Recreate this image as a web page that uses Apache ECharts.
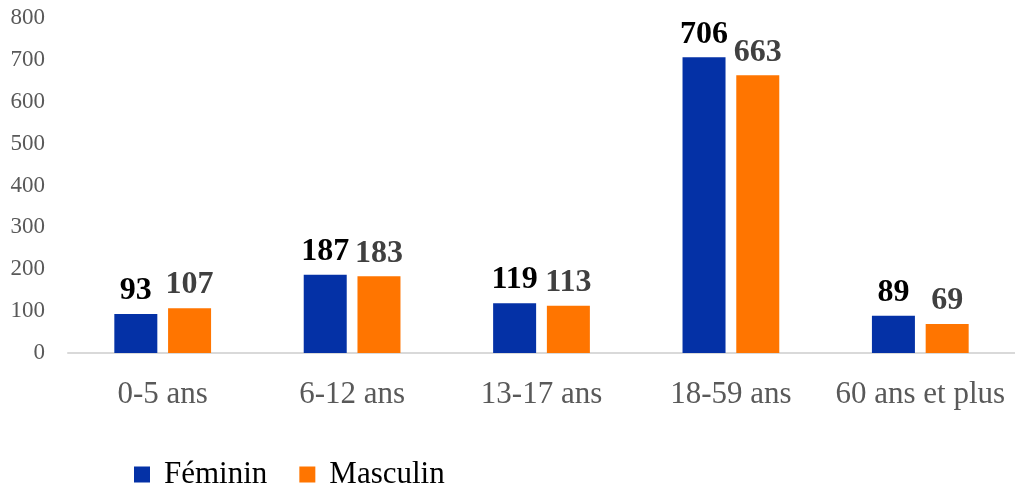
<!DOCTYPE html>
<html>
<head>
<meta charset="utf-8">
<script src="https://cdn.jsdelivr.net/npm/echarts@6/dist/echarts.min.js"></script>
<style>
  html, body { margin: 0; padding: 0; background: #fff; }
  #chart { width: 1015px; height: 486px; }
</style>
</head>
<body>
<div id="chart"></div>
<script>
// Age groups and counts by sex
const categories = ['0-5 ans', '6-12 ans', '13-17 ans', '18-59 ans', '60 ans et plus'];
const feminin = [93, 187, 119, 706, 89];
const masculin = [107, 183, 113, 663, 69];
const yTicks = [0, 100, 200, 300, 400, 500, 600, 700, 800];

const serif = '"Liberation Serif", "Times New Roman", serif';

const chart = echarts.init(document.getElementById('chart'));
chart.setOption({
  animation: false,
  textStyle: { fontFamily: serif },
  grid: { left: 68, right: 0, top: 18, bottom: 133 },
  legend: {
    top: 454,
    left: 129,
    itemWidth: 16,
    itemHeight: 16,
    itemGap: 32,
    icon: 'rect',
    textStyle: { fontFamily: serif, fontSize: 31, color: '#000', padding: [0, 0, 0, 9] },
    data: ['Féminin', 'Masculin']
  },
  xAxis: {
    type: 'category',
    data: categories,
    axisTick: { show: false },
    axisLine: { lineStyle: { color: '#d9d9d9', width: 2 } },
    axisLabel: {
      interval: 0, hideOverlap: false,
      fontFamily: serif, fontSize: 31, color: '#595959', margin: 26
    }
  },
  yAxis: {
    type: 'value',
    min: yTicks[0],
    max: yTicks[yTicks.length - 1],
    interval: 100,
    splitLine: { show: false },
    axisLine: { show: false },
    axisTick: { show: false },
    axisLabel: { fontFamily: serif, fontSize: 23, color: '#595959', margin: 23 }
  },
  series: [
    {
      name: 'Féminin',
      type: 'bar',
      data: feminin,
      barWidth: 43,
      barGap: '25%',
      itemStyle: { color: '#0431A6' },
      label: {
        show: true, position: 'top', distance: 7,
        fontFamily: serif, fontSize: 32, fontWeight: 'bold', color: '#000'
      }
    },
    {
      name: 'Masculin',
      type: 'bar',
      data: masculin,
      barWidth: 43,
      itemStyle: { color: '#FF7500' },
      label: {
        show: true, position: 'top', distance: 7,
        fontFamily: serif, fontSize: 32, fontWeight: 'bold', color: '#404040'
      }
    }
  ]
});
</script>
</body>
</html>
